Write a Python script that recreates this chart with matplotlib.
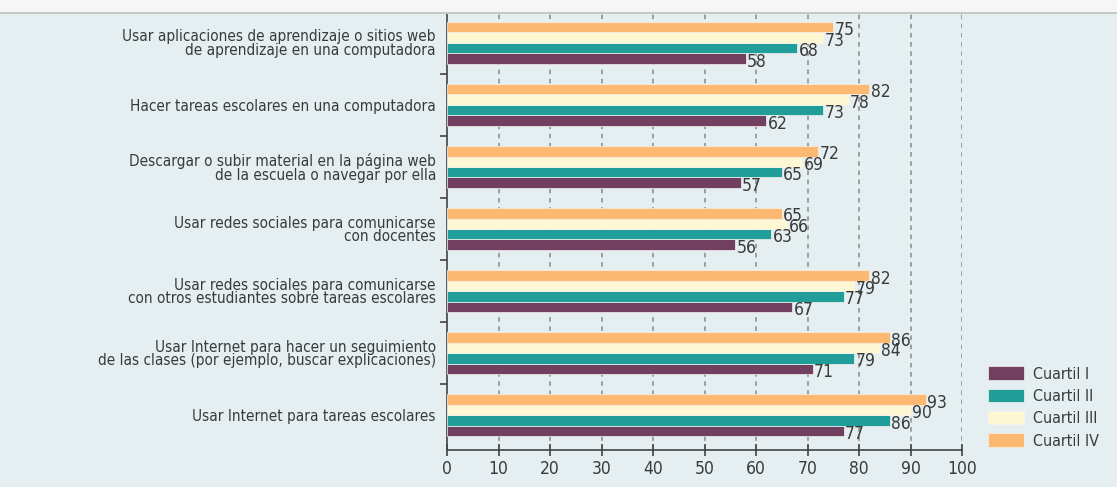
import matplotlib.pyplot as plt
from matplotlib.patches import Rectangle
from matplotlib.lines import Line2D
import numpy as np

categories = [
    "Usar aplicaciones de aprendizaje o sitios web\nde aprendizaje en una computadora",
    "Hacer tareas escolares en una computadora",
    "Descargar o subir material en la página web\nde la escuela o navegar por ella",
    "Usar redes sociales para comunicarse\ncon docentes",
    "Usar redes sociales para comunicarse\ncon otros estudiantes sobre tareas escolares",
    "Usar Internet para hacer un seguimiento\nde las clases (por ejemplo, buscar explicaciones)",
    "Usar Internet para tareas escolares",
]
series_names = ["Cuartil I", "Cuartil II", "Cuartil III", "Cuartil IV"]
cuartil_1 = [58, 62, 57, 56, 67, 71, 77]
cuartil_2 = [68, 73, 65, 63, 77, 79, 86]
cuartil_3 = [73, 78, 69, 66, 79, 84, 90]
cuartil_4 = [75, 82, 72, 65, 82, 86, 93]
x_ticks = [0, 10, 20, 30, 40, 50, 60, 70, 80, 90, 100]

colors = ["#713f60", "#219e99", "#fdf7d4", "#fdb871"]
bg = "#e5eef0"
txt = "#3a3a3a"

plt.rcParams['font.family'] = ['DejaVu Sans']
plt.rcParams['font.stretch'] = 'condensed'

fig = plt.figure(figsize=(11.17, 4.87), dpi=100, facecolor=bg)
# franja blanca superior
fig.patches.append(Rectangle((0, 1 - 12 / 487), 1, 12 / 487, transform=fig.transFigure,
                             facecolor="#f6f6f6", edgecolor="none", zorder=0))
fig.lines.append(Line2D([0, 1], [1 - 13 / 487] * 2, transform=fig.transFigure,
                        color="#c8c8c8", lw=1.5))

ax = fig.add_axes([447 / 1117, 37 / 487, 515 / 1117, 437 / 487])
ax.set_facecolor(bg)

y = np.arange(len(categories))
h = 0.168
all_series = [cuartil_1, cuartil_2, cuartil_3, cuartil_4]
offsets = [1.5, 0.5, -0.5, -1.5]
for vals, col, off, name in zip(all_series, colors, offsets, series_names):
    pos = y + off * h
    ax.barh(pos, vals, height=h, color=col, edgecolor="#f4f4ee", linewidth=0.5,
            label=name, zorder=3)
    for p, v in zip(pos, vals):
        ax.text(v + 0.3, p + 0.05, str(v), va="center", ha="left",
                fontsize=12.5, color=txt, zorder=4)

ax.set_xlim(0, 100)
ax.set_ylim(6.56, -0.48)
ax.set_xticks(x_ticks)
ax.tick_params(axis="x", direction="inout", length=9, width=1.2, colors="#444444",
               labelsize=12.5, labelcolor=txt, pad=3)
ax.set_yticks(y)
ax.set_yticklabels(categories, fontsize=11, color=txt, linespacing=0.9)
ax.tick_params(axis="y", which="major", length=0, pad=8)
ax.set_yticks(np.arange(0.5, 6.5, 1), minor=True)
ax.tick_params(axis="y", which="minor", length=5, width=1.2, color="#444444")

for gx in x_ticks[1:]:
    ax.axvline(gx, color="#8a8a8a", lw=1.1, ls=(0, (3, 3)), zorder=1)

for s in ["top", "right"]:
    ax.spines[s].set_visible(False)
ax.spines["left"].set_color("#444444")
ax.spines["left"].set_linewidth(1.2)
ax.spines["bottom"].set_color("#444444")
ax.spines["bottom"].set_linewidth(1.2)

handles, labels = ax.get_legend_handles_labels()
fig.legend(handles, labels, loc="upper left", bbox_to_anchor=(982 / 1117, 1 - 360 / 487),
           frameon=False, fontsize=11.5, labelcolor=txt, handlelength=2.2, handleheight=0.9,
           labelspacing=0.45, handletextpad=0.6, borderaxespad=0)

fig.savefig("out.png", dpi=100, facecolor=bg)
